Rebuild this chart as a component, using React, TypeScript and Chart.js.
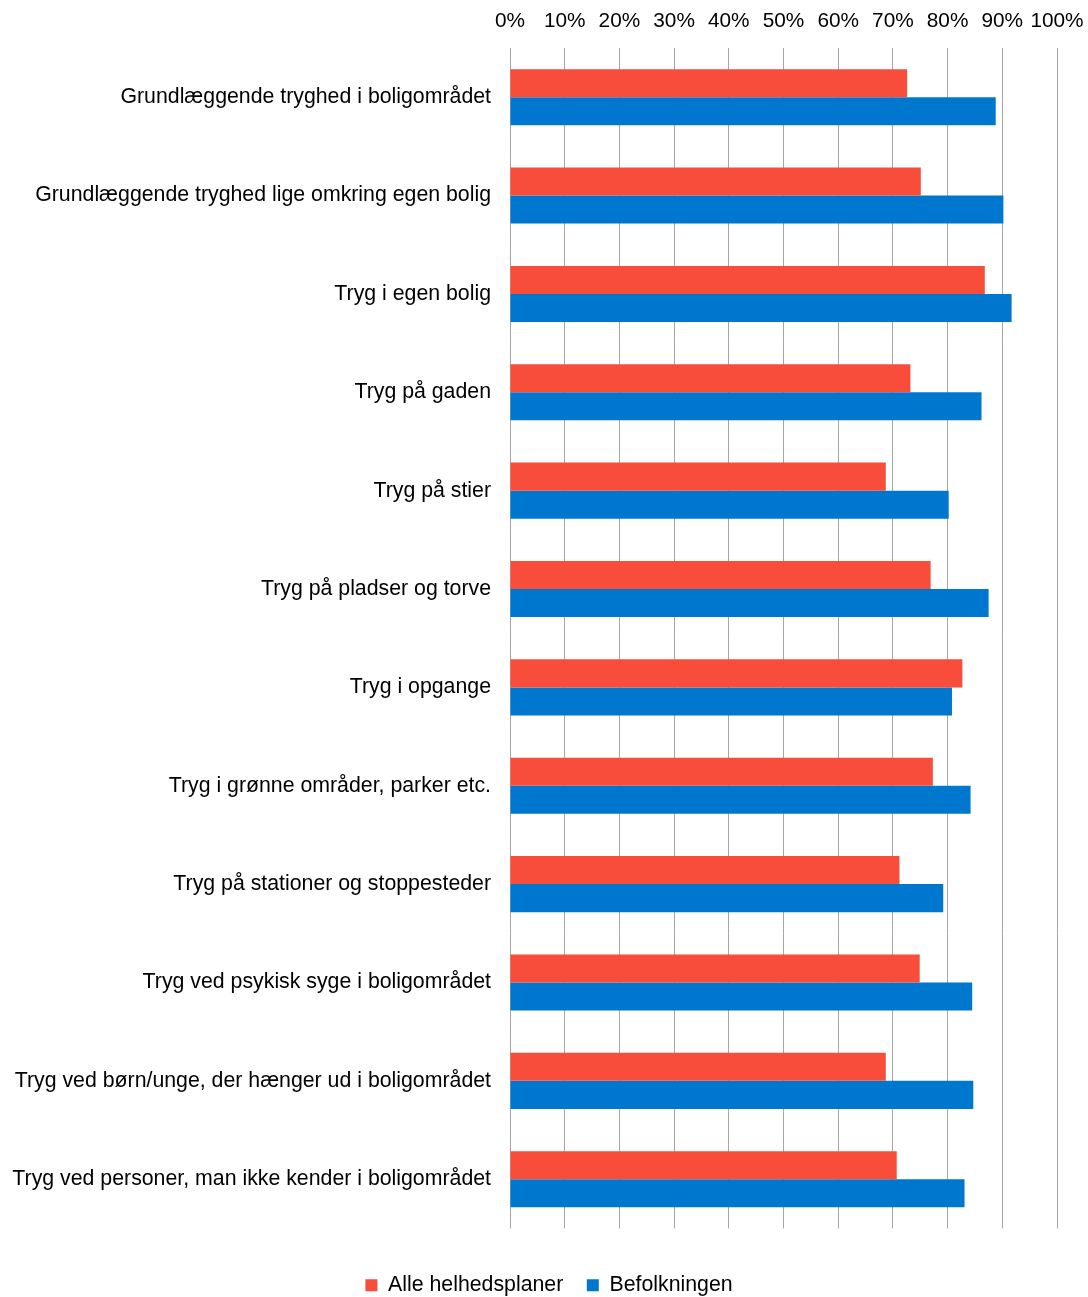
import React, { useEffect, useRef } from "react";
import { Chart, registerables } from "chart.js";

Chart.register(...registerables);

const categories = [
  "Grundlæggende tryghed i boligområdet",
  "Grundlæggende tryghed lige omkring egen bolig",
  "Tryg i egen bolig",
  "Tryg på gaden",
  "Tryg på stier",
  "Tryg på pladser og torve",
  "Tryg i opgange",
  "Tryg i grønne områder, parker etc.",
  "Tryg på stationer og stoppesteder",
  "Tryg ved psykisk syge i boligområdet",
  "Tryg ved børn/unge, der hænger ud i boligområdet",
  "Tryg ved personer, man ikke kender i boligområdet",
];

const alleHelhedsplaner = [72.6, 75.1, 86.8, 73.2, 68.7, 76.9, 82.7, 77.3, 71.2, 74.9, 68.7, 70.7];
const befolkningen = [88.8, 90.2, 91.7, 86.2, 80.2, 87.5, 80.8, 84.2, 79.2, 84.5, 84.7, 83.1];

const xTicks = [0, 10, 20, 30, 40, 50, 60, 70, 80, 90, 100];

const CANVAS_H = 1306;
const PAD_R = 31;
const LEGEND_SHIFT = 20.5;

const legendShift = {
  id: "legendShift",
  afterLayout(chart: any) {
    const lg = chart.legend;
    if (lg) {
      lg.left += LEGEND_SHIFT;
      lg.right += LEGEND_SHIFT;
    }
  },
};

export default function App() {
  const ref = useRef<HTMLCanvasElement | null>(null);

  useEffect(() => {
    if (!ref.current) return;
    const family = "'Liberation Sans', Arial, sans-serif";
    const chart = new Chart(ref.current, {
      type: "bar",
      data: {
        labels: categories,
        datasets: [
          {
            label: "Alle helhedsplaner",
            data: alleHelhedsplaner,
            backgroundColor: "#F94D3C",
            categoryPercentage: 0.57,
            barPercentage: 1,
          },
          {
            label: "Befolkningen",
            data: befolkningen,
            backgroundColor: "#0077CF",
            categoryPercentage: 0.57,
            barPercentage: 1,
          },
        ],
      },
      options: {
        indexAxis: "y",
        responsive: false,
        animation: false,
        maintainAspectRatio: false,
        layout: { padding: { left: 0, right: PAD_R, top: 0, bottom: 0 } },
        scales: {
          x: {
            position: "top",
            min: 0,
            max: 100,
            afterBuildTicks: (scale: any) => {
              scale.ticks = xTicks.map((v) => ({ value: v }));
            },
            afterFit: (scale: any) => {
              scale.height = 48;
              scale.paddingRight = 0;
              scale.paddingLeft = 0;
            },
            ticks: {
              font: { family, size: 20.8 },
              color: "#000",
              padding: 14,
              maxRotation: 0,
              autoSkip: false,
              callback: (v: any) => v + "%",
            },
            grid: { color: "#A6A6A6", lineWidth: 1, drawTicks: false },
            border: { display: false },
          },
          y: {
            afterFit: (scale: any) => {
              scale.width = 510;
            },
            ticks: { font: { family, size: 21.3 }, color: "#000", padding: 19, autoSkip: false },
            grid: { display: false, drawTicks: false },
            border: { display: false },
          },
        },
        plugins: {
          legend: {
            position: "bottom",
            title: {
              display: true,
              text: "",
              font: { family, size: 10 },
              padding: { top: 10.8, bottom: 0 },
            },
            labels: {
              font: { family, size: 21.3 },
              color: "#000",
              boxWidth: 12,
              boxHeight: 12,
              padding: 23.5,
            },
          },
          tooltip: { enabled: false },
        },
      },
      plugins: [legendShift],
    });
    return () => chart.destroy();
  }, []);

  return (
    <div
      style={{
        position: "fixed",
        left: 0,
        top: 0,
        width: 1088,
        height: 1297,
        overflow: "hidden",
        background: "#fff",
      }}
    >
      <canvas ref={ref} width={1088} height={CANVAS_H} style={{ width: 1088, height: CANVAS_H, display: "block" }} />
    </div>
  );
}
